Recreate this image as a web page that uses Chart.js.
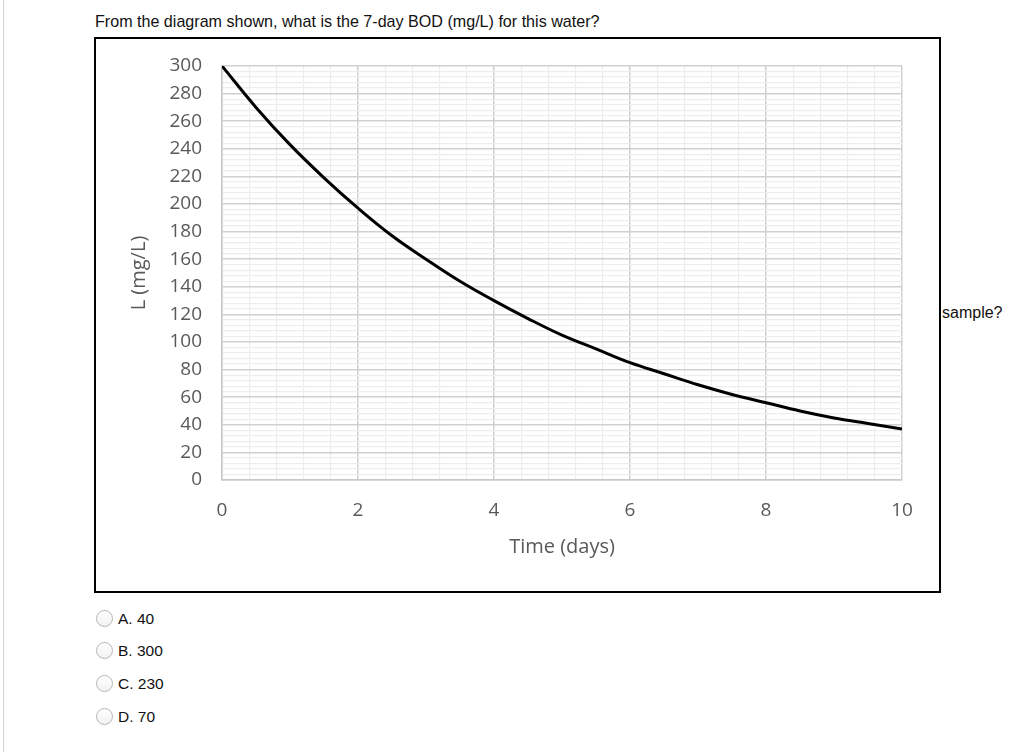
<!DOCTYPE html>
<html>
<head>
<meta charset="utf-8">
<script src="https://cdn.jsdelivr.net/npm/chart.js@4.4.0/dist/chart.umd.min.js"></script>
<style>
  body { margin: 0; background: #fff; font-family: "Liberation Sans", Arial, sans-serif; color: #111; }
  #edge { position: absolute; left: 3px; top: 0; width: 1px; height: 752px; background: #d4d4d4; }
  #q { position: absolute; left: 95px; top: 12px; font-size: 16.1px; }
  #box { position: absolute; left: 94px; top: 37px; width: 843px; height: 552px; border: 2px solid #000; }
  #wrap { position: absolute; left: 0; top: 0; width: 843px; height: 551px; }
  #side { position: absolute; left: 942px; top: 304px; font-size: 16px; }
  .opt { position: absolute; left: 96px; font-size: 15.5px; height: 17px; line-height: 17px; }
  .opt span { display: inline-block; width: 15px; height: 15px; border: 1px solid #b5b5b5; border-radius: 50%;
              vertical-align: top; margin-right: 5px; background: linear-gradient(#fff, #f2f2f2); }
</style>
</head>
<body>
<div id="edge"></div>
<div id="q">From the diagram shown, what is the 7-day BOD (mg/L) for this water?</div>
<div id="box"><div id="wrap"><canvas id="myChart"></canvas></div></div>
<div id="side">sample?</div>
<div class="opt" style="top:610px"><span></span>A. 40</div>
<div class="opt" style="top:642px"><span></span>B. 300</div>
<div class="opt" style="top:675px"><span></span>C. 230</div>
<div class="opt" style="top:708px"><span></span>D. 70</div>
<script>
// values
const dias = [0, 0.5, 1, 1.5, 2, 2.5, 3, 3.5, 4, 4.5, 5, 5.5, 6, 6.5, 7, 7.5, 8, 8.5, 9, 9.5, 10]
const bod = [300, 270, 243, 219, 197, 177, 160, 144, 130, 117, 105, 95, 85, 77, 69, 62, 56, 50, 45, 41, 37]
const xTicks = [0, 2, 4, 6, 8, 10]
const yTicks = [0, 20, 40, 60, 80, 100, 120, 140, 160, 180, 200, 220, 240, 260, 280, 300]

const cinza = '#595959'
const fonteEixo = { family: 'Open Sans', size: 19 }

function ehMarca(v, lista) {
  return lista.some(t => Math.abs(t - v) < 1e-6)
}

const ctx = document.getElementById('myChart');

var grafico = new Chart(ctx, {
  type: 'line',
  data: {
    datasets: [{
      label: 'L',
      data: dias.map((d, i) => ({ x: d, y: bod[i] })),
      borderColor: '#000',
      borderWidth: 3,
      pointRadius: 0,
      tension: 0.4,
      fill: false
    }]
  },
  options: {
    responsive: true,
    maintainAspectRatio: false,
    animation: false,
    layout: { padding: { top: 27, right: 37, left: 0, bottom: 0 } },
    plugins: { legend: { display: false }, tooltip: { enabled: false } },
    scales: {
      x: {
        type: 'linear',
        min: 0,
        max: 10,
        afterFit: s => { s.height = 110 },
        border: { color: '#c8c8c8', width: 1.5 },
        grid: {
          drawTicks: false,
          color: c => ehMarca(c.tick.value, xTicks) ? '#d0d0d0' : '#ededed',
          lineWidth: c => ehMarca(c.tick.value, xTicks) ? 1.5 : 1.2
        },
        ticks: {
          stepSize: 0.4,
          autoSkip: false,
          maxRotation: 0,
          padding: 19,
          color: cinza,
          font: fonteEixo,
          callback: v => ehMarca(v, xTicks) ? String(Math.round(v)) : ''
        },
        title: { display: true, text: 'Time (days)', color: cinza, font: { family: 'Open Sans', size: 20 }, padding: { top: 0, bottom: 31 } }
      },
      y: {
        min: 0,
        max: 300,
        afterFit: s => { s.width = 126; s.paddingTop = 0; s.paddingBottom = 0 },
        border: { color: '#c8c8c8', width: 1.5 },
        grid: {
          drawTicks: false,
          color: c => ehMarca(c.tick.value, yTicks) ? '#d0d0d0' : '#ededed',
          lineWidth: c => ehMarca(c.tick.value, yTicks) ? 1.5 : 1.2
        },
        ticks: {
          stepSize: 4,
          autoSkip: false,
          padding: 20,
          color: cinza,
          font: fonteEixo,
          callback: v => ehMarca(v, yTicks) ? String(Math.round(v)) : ''
        },
        title: { display: true, text: 'L (mg/L)', color: cinza, font: { family: 'Open Sans', size: 20 }, padding: { top: 31, bottom: 0 } }
      }
    }
  }
});
</script>
</body>
</html>
